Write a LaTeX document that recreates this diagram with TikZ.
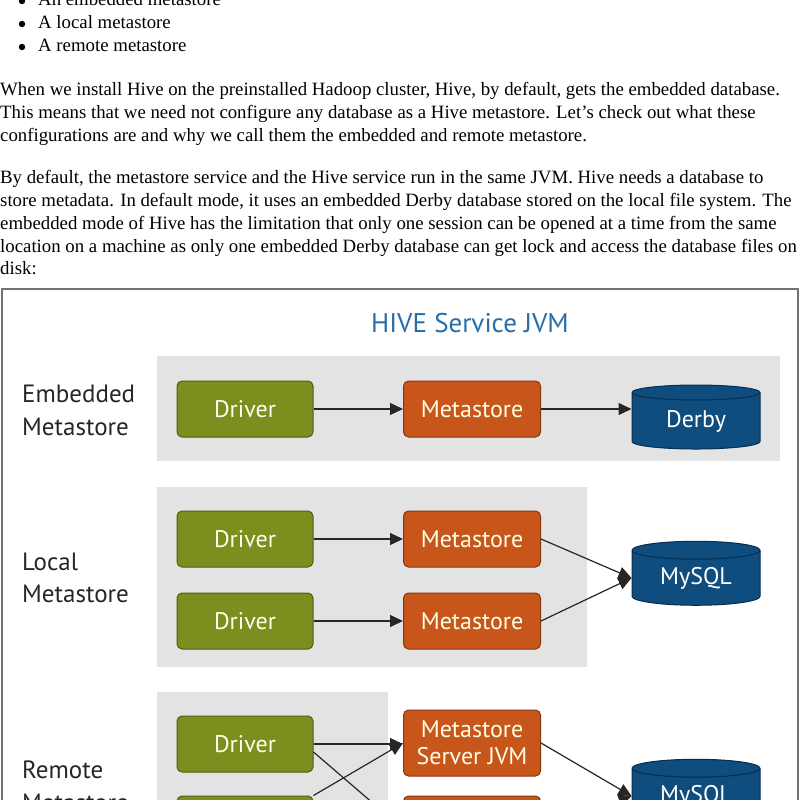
\documentclass[tikz,border=0pt]{standalone}
\usepackage{fontspec}
\setmainfont{Liberation Serif}
\newfontfamily\diag{PT Sans}
\usetikzlibrary{shapes.geometric,arrows.meta}
\definecolor{pgray}{HTML}{E3E3E3}
\definecolor{dgreen}{HTML}{7A8F1E}
\definecolor{dgreenb}{HTML}{4F5E10}
\definecolor{orng}{HTML}{C8561A}
\definecolor{orngb}{HTML}{8A3508}
\definecolor{dblue}{HTML}{0E4D7E}
\definecolor{dblueb}{HTML}{062E50}
\definecolor{tblue}{HTML}{2A6DA6}
\begin{document}
\begin{tikzpicture}[x=1pt,y=-1pt,
  body/.style={anchor=base west,inner sep=0,font=\fontsize{18.8}{20}\selectfont},
  lab/.style={anchor=base west,inner sep=0,font=\diag\fontsize{25}{26}\selectfont,text=black!85},
  panel/.style={fill=pgray,draw=none},
  drv/.style={draw=dgreenb,fill=dgreen,rounded corners=5pt,line width=1pt,minimum width=136,minimum height=56,text=white!92!yellow,font=\diag\fontsize{24}{24}\selectfont,inner sep=0},
  ms/.style={draw=orngb,fill=orng,rounded corners=5pt,line width=1pt,minimum width=137,minimum height=56,text=white!90!yellow,font=\diag\fontsize{24}{27}\selectfont,inner sep=0,align=center},
  db/.style={cylinder,shape border rotate=90,aspect=0.25,draw=dblueb,fill=dblue,line width=1pt,minimum width=128,minimum height=64,text=white,font=\diag\fontsize{24}{24}\selectfont,inner sep=0},
  arr/.style={-{Triangle[length=13pt,width=12pt]},line width=1.2pt,black!85}]
\useasboundingbox (0,0) rectangle (800,800);
\clip (0,0) rectangle (800,800);
\fill[white] (0,0) rectangle (800,800);
% text
\fill (22,1) circle (3.2);
\node[body] (b1) at (38,6) {An embedded metastore};
\fill (22,24) circle (3.2);
\node[body] (b2) at (38,29) {A local metastore};
\fill (22,47) circle (3.2);
\node[body] (b3) at (38,52) {A remote metastore};
\node[body] (p1) at (0,95) {When we install Hive on the preinstalled Hadoop cluster, Hive, by default, gets the embedded database.};
\node[body] (p2) at (0,118) {This means that we need not configure any database as a Hive metastore. Let's check out what these};
\node[body] (p3) at (0,141) {configurations are and why we call them the embedded and remote metastore.};
\node[body] (q1) at (0,183) {By default, the metastore service and the Hive service run in the same JVM. Hive needs a database to};
\node[body] (q2) at (0,206) {store metadata. In default mode, it uses an embedded Derby database stored on the local file system. The};
\node[body] (q3) at (0,229) {embedded mode of Hive has the limitation that only one session can be opened at a time from the same};
\node[body] (q4) at (0,252) {location on a machine as only one embedded Derby database can get lock and access the database files on};
\node[body] (q5) at (0,274) {disk:};
% frame
\draw[black!55,line width=1.2pt] (2,820) -- (2,289) -- (798,289) -- (798,820);
\node[font=\diag\fontsize{27}{28}\selectfont,text=tblue] (title) at (470,323) {HIVE Service JVM};
% panels
\fill[panel] (157,356) rectangle (780,461);
\fill[panel] (157,487) rectangle (587,667);
\fill[panel] (157,692) rectangle (388,820);
% labels
\node[lab] (l1) at (22,402) {Embedded};
\node[lab] (l1b) at (22,435) {Metastore};
\node[lab] (l2) at (22,570) {Local};
\node[lab] (l2b) at (22,602) {Metastore};
\node[lab] (l3) at (22,778) {Remote};
\node[lab] (l3b) at (22,811) {Metastore};
% embedded
\node[drv] (d1) at (245,409) {Driver};
\node[ms] (m1) at (472,409) {Metastore};
\node[db] (derby) at (696,421) {Derby};
\draw[arr] (d1) -- (m1);
\draw[arr] (m1) -- (derby.west|-m1);
% local
\node[drv] (d2) at (245,539) {Driver};
\node[drv] (d3) at (245,621) {Driver};
\node[ms] (m2) at (472,539) {Metastore};
\node[ms] (m3) at (472,621) {Metastore};
\node[db] (mysql1) at (696,578) {MySQL};
\draw[arr] (m2.east) -- (mysql1.west);
\draw[arr] (m3.east) -- (mysql1.west);
\draw[arr] (d2) -- (m2);
\draw[arr] (d3) -- (m3);
% remote
\node[drv] (d4) at (245,744) {Driver};
\node[drv] (d5) at (245,824) {Driver};
\node[ms,minimum height=66] (m4) at (472,743) {Metastore\\Server JVM};
\node[ms,minimum height=66] (m5) at (472,829) {Metastore};
\node[db] (mysql2) at (696,796) {MySQL};
\draw[arr] (d4.east) -- (m4.west|-d4.east);
\draw[arr] (d4.east) ++(0,8) coordinate (c1) -- (m5.west);
\draw[arr] (d5.north east) -- (m4.west);
\draw[arr] (m4.east) -- (mysql2.west);
\draw[arr] (m5.east) -- (mysql2.west);
\end{tikzpicture}
\end{document}
